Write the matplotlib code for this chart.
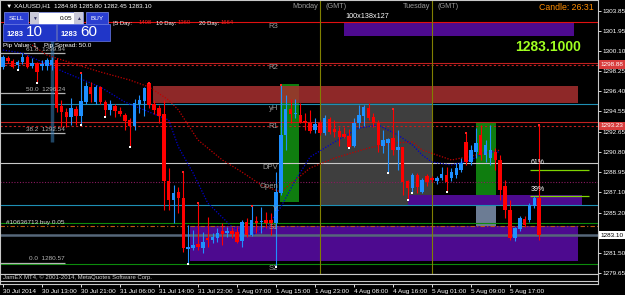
import numpy as np
import matplotlib
matplotlib.use("Agg")
import matplotlib.pyplot as plt
from matplotlib.patches import Rectangle

plt.rcParams['font.family'] = ['Liberation Sans', 'DejaVu Sans']

W, H = 625, 295

# XAUUSD H1, bar 0 = 30 Jul 2014 05:00
opens = [1298.65, 1299.48, 1299.21, 1298.84, 1299.11, 1299.57, 1298.74, 1299.02, 1298.74, 1298.74,
         1298.84, 1299.30, 1295.05, 1294.49, 1294.03, 1294.77, 1294.12, 1295.42, 1296.80, 1295.42,
         1296.80, 1295.42, 1294.68, 1295.05, 1294.59, 1294.22, 1293.75, 1293.20, 1295.23, 1295.51,
         1297.17, 1295.23, 1294.86, 1294.31, 1288.12, 1286.36, 1287.10, 1286.55, 1281.84, 1281.93,
         1282.30, 1281.93, 1282.85, 1282.67, 1282.85, 1283.50, 1283.32, 1283.50, 1283.41, 1282.58,
         1284.33, 1283.13, 1284.42, 1284.33, 1284.52, 1284.52, 1284.24, 1287.01, 1292.37, 1294.77,
         1294.31, 1294.22, 1293.66, 1293.48, 1292.83, 1293.48, 1292.55, 1293.85, 1292.92, 1292.74,
         1292.46, 1292.28, 1291.35, 1293.48, 1294.12, 1294.86, 1294.03, 1293.48, 1291.35, 1291.63,
         1292.09, 1290.98, 1291.26, 1288.12, 1287.47, 1288.67, 1287.10, 1288.58, 1288.40, 1288.12,
         1288.40, 1288.67, 1288.40, 1288.67, 1289.14, 1291.72, 1289.87, 1290.80, 1292.37, 1290.52,
         1290.24, 1290.80, 1290.06, 1287.66, 1285.44, 1282.85, 1283.68, 1284.61, 1284.52, 1285.81,
         1286.55]
highs = [1299.76, 1299.67, 1299.39, 1299.30, 1299.94, 1299.76, 1299.48, 1299.11, 1299.30, 1299.48,
         1299.57, 1299.48, 1295.60, 1294.86, 1295.79, 1295.05, 1298.10, 1297.27, 1297.27, 1296.99,
         1296.90, 1295.60, 1295.60, 1295.23, 1294.96, 1294.40, 1293.94, 1295.69, 1296.06, 1296.80,
         1297.17, 1295.60, 1295.14, 1295.60, 1289.32, 1287.75, 1287.57, 1288.95, 1284.05, 1283.59,
         1286.09, 1283.41, 1284.79, 1283.32, 1283.78, 1284.24, 1283.87, 1283.87, 1283.87, 1284.52,
         1284.70, 1285.81, 1284.89, 1285.72, 1285.26, 1285.16, 1288.95, 1296.99, 1296.06, 1295.69,
         1295.69, 1295.32, 1294.40, 1294.68, 1293.94, 1293.75, 1294.22, 1294.03, 1293.75, 1293.11,
         1293.11, 1292.92, 1293.94, 1295.14, 1295.14, 1295.32, 1294.40, 1293.75, 1292.83, 1292.09,
         1294.77, 1292.83, 1291.26, 1288.21, 1288.86, 1288.86, 1288.40, 1288.77, 1288.58, 1288.58,
         1289.41, 1289.41, 1289.32, 1289.78, 1290.24, 1292.55, 1291.45, 1293.02, 1293.29, 1291.91,
         1293.29, 1291.17, 1290.52, 1288.21, 1286.36, 1283.87, 1284.89, 1284.89, 1286.09, 1286.73,
         1293.29]
lows = [1298.47, 1299.02, 1298.56, 1298.37, 1298.93, 1298.56, 1298.56, 1297.17, 1298.37, 1298.37,
        1298.37, 1294.49, 1293.11, 1293.11, 1293.29, 1293.29, 1293.29, 1295.23, 1295.42, 1295.23,
        1295.23, 1294.03, 1294.22, 1294.03, 1294.12, 1292.83, 1291.26, 1292.83, 1294.40, 1294.12,
        1294.86, 1294.31, 1293.48, 1285.44, 1285.44, 1284.24, 1285.16, 1281.56, 1280.45, 1281.76,
        1281.76, 1281.47, 1282.02, 1282.39, 1282.48, 1282.21, 1282.95, 1282.85, 1282.39, 1282.02,
        1282.95, 1283.04, 1283.32, 1283.32, 1283.78, 1283.13, 1280.17, 1286.83, 1290.98, 1293.48,
        1293.94, 1293.48, 1292.83, 1292.55, 1292.55, 1292.37, 1292.37, 1292.46, 1292.18, 1291.35,
        1292.09, 1291.17, 1291.26, 1293.02, 1293.20, 1293.75, 1293.11, 1290.80, 1290.71, 1288.86,
        1290.52, 1289.14, 1286.83, 1286.36, 1287.01, 1287.01, 1287.01, 1287.66, 1288.03, 1287.84,
        1288.21, 1287.10, 1288.12, 1288.40, 1288.95, 1289.60, 1289.60, 1290.24, 1290.06, 1289.87,
        1289.60, 1289.14, 1286.36, 1284.70, 1282.67, 1282.58, 1283.50, 1283.87, 1284.33, 1285.63,
        1282.67]
closes = [1299.57, 1299.21, 1298.65, 1299.11, 1299.57, 1298.65, 1299.02, 1298.19, 1298.93, 1299.30,
          1299.30, 1294.86, 1294.49, 1294.03, 1294.86, 1294.12, 1295.51, 1296.90, 1296.16, 1296.80,
          1295.42, 1294.68, 1295.23, 1294.59, 1294.31, 1293.66, 1293.20, 1295.32, 1295.60, 1296.71,
          1295.14, 1294.68, 1294.12, 1288.12, 1286.36, 1287.01, 1286.55, 1281.93, 1282.02, 1282.21,
          1282.02, 1282.48, 1282.67, 1282.95, 1283.32, 1283.22, 1283.50, 1283.22, 1282.48, 1284.33,
          1283.13, 1284.52, 1284.24, 1284.42, 1284.24, 1284.24, 1287.10, 1292.37, 1294.77, 1294.31,
          1294.40, 1293.48, 1293.48, 1292.74, 1293.38, 1292.55, 1293.94, 1292.65, 1292.65, 1292.18,
          1292.18, 1291.26, 1293.48, 1294.22, 1294.96, 1293.94, 1293.48, 1291.45, 1291.91, 1292.00,
          1290.98, 1291.26, 1288.03, 1287.47, 1288.67, 1287.57, 1288.21, 1288.03, 1288.21, 1288.40,
          1288.77, 1288.03, 1288.95, 1289.32, 1289.78, 1289.87, 1290.98, 1291.63, 1290.52, 1291.45,
          1290.98, 1290.06, 1287.29, 1285.44, 1282.85, 1283.78, 1284.70, 1284.05, 1285.90, 1286.55,
          1283.10]

# trade arrows shown at wick ends
low_mark_bars = [3, 7, 16, 21, 26, 38, 56, 71, 79, 83, 84, 91]
high_mark_bars = [16, 30, 37, 40, 51, 57, 80, 95, 110]

# moving averages (red = slow, blue = fast)
ma_red_bars = [6, 9, 16, 20, 26, 30, 34, 36, 40, 45, 49, 53, 57, 60, 63, 68, 75, 80, 84, 86, 92, 97, 102]
ma_red_vals = [1300.68, 1299.76, 1298.74, 1298.19, 1297.45, 1296.80, 1295.60, 1294.68, 1291.91, 1290.06,
               1288.95, 1287.75, 1287.10, 1288.21, 1289.32, 1290.24, 1291.17, 1291.63, 1291.72, 1290.98,
               1290.06, 1290.52, 1290.98]
ma_blue_bars = [0, 4, 13, 20, 25, 34, 36, 39, 42, 47, 51, 54, 57, 60, 63, 68, 73, 77, 81, 84, 86, 88,
                92, 96, 99, 102]
ma_blue_vals = [1300.22, 1299.94, 1298.10, 1296.80, 1295.42, 1293.75, 1291.26, 1288.86, 1286.09, 1283.87,
                1283.13, 1283.78, 1285.72, 1288.21, 1290.34, 1291.72, 1293.02, 1293.29, 1292.37, 1291.45,
                1290.52, 1289.87, 1289.60, 1290.06, 1290.80, 1290.80]

# pivot levels
pivot_names = ['R3', 'R2', 'yH', 'R1', 'DPV', 'Open', 'Y', 'S1', 'S2']
pivot_vals = [1302.81, 1299.02, 1295.23, 1293.57, 1289.78, 1288.03, 1285.90, 1284.24, 1280.45]
pivot_cols = ['#e01010', '#c02020', '#1e8fb4', '#c02020', '#c8c8c8', '#8a1a60', '#1e8fb4', '#0c8c0c', '#0c8c0c']

# fibonacci
fib_levels = ['61.8', '50.0', '38.2', '0.0']
fib_vals = [1299.94, 1296.24, 1292.54, 1280.57]

# zones: (start bar, end bar, top, bottom, colour, alpha)
zones = [
    (69.9, 117.1, 1302.81, 1301.51, '#4d0a8f', 1.0),
    (65.0, 88.0, 1295.33, 1285.90, '#3e3e3e', 1.0),
    (56.8, 60.8, 1297.08, 1286.18, '#0f7d0f', 1.0),
    (97.0, 101.1, 1293.48, 1286.36, '#0f7d0f', 1.0),
    (97.0, 101.1, 1286.36, 1282.67, '#6c7c94', 1.0),
    (30.8, 117.9, 1296.90, 1295.33, '#a83030', 0.85),
    (38.4, 117.9, 1283.96, 1280.73, '#4d0a8f', 1.0),
    (83.1, 118.8, 1286.83, 1285.81, '#4d0a8f', 1.0),
]

yticks = [1303.85, 1301.95, 1300.10, 1298.25, 1296.40, 1294.55, 1292.65, 1290.80, 1288.95,
          1287.10, 1285.20, 1283.35, 1281.50, 1279.65]
hidden_ticks = [1283.35]  # covered by the bid box
time_bars = [0, 8, 16, 24, 32, 40, 48, 56, 64, 72, 80, 88, 96, 104]
time_labels = ['30 Jul 2014', '30 Jul 13:00', '30 Jul 21:00', '31 Jul 06:00', '31 Jul 14:00',
               '31 Jul 22:00', '1 Aug 07:00', '1 Aug 15:00', '1 Aug 23:00', '4 Aug 08:00',
               '4 Aug 16:00', '5 Aug 01:00', '5 Aug 09:00', '5 Aug 17:00']

day_ranges = [('5', 1408), ('10', 1360), ('20', 1664)]

bid, ask = 1283.10, 1283.60
BLUE, RED = '#1e90ff', '#ff0000'
FS = 4.6

fig = plt.figure(figsize=(W / 100, H / 100), dpi=100, facecolor='black')
ax = fig.add_axes([0, 21 / H, 598 / W, 274 / H])
ax2 = fig.add_axes([0, 11 / H, 598 / W, 10 / H], sharex=ax)
for a in (ax, ax2):
    a.set_facecolor('black')
    for s in a.spines.values():
        s.set_color('#c8c8c8')
        s.set_linewidth(0.8)

ax.set_xlim(-0.6, 122.05)
ax.set_ylim(1279.53, 1304.84)

for x0, x1, top, bot, col, al in zones:
    ax.add_patch(Rectangle((x0, bot), x1 - x0, top - bot, facecolor=col, edgecolor='none',
                           alpha=al, zorder=1))

# horizontal levels
for name, v, col in zip(pivot_names, pivot_vals, pivot_cols):
    ls = (0, (1, 1.5)) if name == 'Open' else '-'
    ax.axhline(v, color=col, lw=0.8, ls=ls, zorder=2)
    ax.text(56.4, v - 0.12, name, color='#9a9a9a', fontsize=5.5, ha='right', va='top', zorder=6)
ax.axhline(1298.88, color='#c02020', lw=0.8, ls=(0, (2, 2)), zorder=2)
ax.axhline(1293.23, color='#c02020', lw=0.8, ls=(0, (2, 2)), zorder=2)
ax.axhline(1283.96, color='#c05a10', lw=0.8, ls=(0, (4, 2, 1, 2)), zorder=2)
ax.axhline(bid, color='#56677a', lw=1.8, zorder=2)
ax.hlines([1289.14, 1286.73], 108.1, 120.2, color='#7fd400', lw=0.9, zorder=2)
ax.text(108.2, 1289.80, '61%', color='white', fontsize=FS + 0.4, va='center', zorder=6)
ax.text(108.2, 1287.38, '39%', color='white', fontsize=FS + 0.4, va='center', zorder=6)
ax.text(0.6, 1284.30, '#10636713 buy 0.05', color='#d8d8d8', fontsize=FS, va='center', zorder=6)

for lev, v in zip(fib_levels, fib_vals):
    ax.hlines(v, -0.6, 12.7, color='#b4b4b4', lw=0.9, zorder=2)
    ax.text(12.7, v + 0.12, f'{lev}  {v:.2f}', color='#b4b4b4', fontsize=FS, ha='right',
            va='bottom', zorder=6)

for b in (65, 88):
    ax.axvline(b, color='#808000', lw=0.8, zorder=2)
ax.vlines(10, 1291.72, 1301.14, color='#3a7fb8', alpha=0.55, lw=2.5, zorder=3)

ax.plot(ma_red_bars, ma_red_vals, color='#c00000', lw=0.9, ls=(0, (1, 1.3)), zorder=3)
ax.plot(ma_blue_bars, ma_blue_vals, color='#0000d0', lw=0.9, ls=(0, (1, 1.3)), zorder=3)

# candles
bars = np.arange(len(opens))
o, hi, lo, c = map(np.array, (opens, highs, lows, closes))
cols = np.where(c >= o, BLUE, RED)
ax.vlines(bars, lo, hi, colors=cols, lw=0.8, zorder=4)
ax.bar(bars, np.maximum(np.abs(c - o), 0.06), bottom=np.minimum(o, c), width=0.72,
       color=cols, zorder=5)
ax.scatter(low_mark_bars, lo[low_mark_bars], marker='s', s=2.5, color='white', lw=0, zorder=6)
ax.scatter(high_mark_bars, hi[high_mark_bars], marker='s', s=2.5, color='#ff2020', lw=0, zorder=6)

# right price scale
ax.yaxis.tick_right()
ax.set_yticks(yticks)
ax.set_yticklabels(['' if t in hidden_ticks else f'{t:.2f}' for t in yticks])
ax.tick_params(axis='y', colors='white', labelsize=FS, length=2, width=0.6, pad=1)
ax.tick_params(axis='x', bottom=False, labelbottom=False)
ybox = ax.get_yaxis_transform()
for v, fc, tc in ((1298.88, '#d83c3c', 'white'), (1293.23, '#d83c3c', 'white'), (bid, 'white', 'black')):
    ax.text(1.004, v, f'{v:.2f}', transform=ybox, color=tc, fontsize=FS, va='center', ha='left',
            zorder=7, bbox=dict(boxstyle='square,pad=0.25', fc=fc, ec='none'), clip_on=False)

# small indicator strip + time axis
ax2.set_ylim(0, 1)
ax2.set_yticks([])
ax2.axhline(0.35, color='#c8c8c8', lw=0.8)
ax2.set_xticks(time_bars)
ax2.set_xticklabels(time_labels, ha='left')
ax2.tick_params(axis='x', colors='white', labelsize=FS, length=2.5, width=0.6, pad=1)
ax2.text(3 / 598, 0.68, 'JamEX MT4, \u00a9 2001-2014, MetaQuotes Software Corp.', transform=ax2.transAxes,
         color='#d0d0d0', fontsize=FS - 0.3, va='center')


def fig_rect(x, y, w, h, **kw):
    fig.add_artist(Rectangle((x / W, 1 - (y + h) / H), w / W, h / H, transform=fig.transFigure, **kw))


def fig_txt(x, y, s, **kw):
    kw.setdefault('va', 'center')
    fig.text(x / W, 1 - y / H, s, **kw)


# header + one-click trading panel
fig_txt(6, 6, '\u25bc XAUUSD,H1  1284.98 1285.80 1282.45 1283.10', color='white', fontsize=FS)
fig_rect(4, 12, 24, 12, facecolor='#2a3ed0', edgecolor='#8090f0', lw=0.5)
fig_txt(16, 18, 'SELL', color='white', fontsize=FS, ha='center')
fig_rect(30, 12, 53, 12, facecolor='white', edgecolor='#8090f0', lw=0.5)
fig_rect(30, 12, 9, 12, facecolor='#c8c8d8', edgecolor='none')
fig_rect(74, 12, 9, 12, facecolor='#c8c8d8', edgecolor='none')
fig_txt(34.5, 18, '\u25bc', color='#303060', fontsize=3.5, ha='center')
fig_txt(78.5, 18, '\u25b2', color='#303060', fontsize=3.5, ha='center')
fig_txt(72, 18, '0.05', color='black', fontsize=FS, ha='right')
fig_rect(86, 12, 22, 12, facecolor='#2a3ed0', edgecolor='#8090f0', lw=0.5)
fig_txt(97, 18, 'BUY', color='white', fontsize=FS, ha='center')
for x0, price in ((3, bid), (57, ask)):
    fig_rect(x0, 24, 53, 17, facecolor='#2036c8', edgecolor='#6a7ae8', lw=0.5)
    big = f'{price:.2f}'
    fig_txt(x0 + 4, 34, big[:4], color='white', fontsize=5.5, fontweight='bold')
    fig_txt(x0 + 23, 32.5, big[5:], color='white', fontsize=11)

# daily range strip: label and value pieces at their own columns
fig_txt(112, 23, '|', color='white', fontsize=FS)
for (days, rng), xl, xv in zip(day_ranges, (115, 156, 199), (139, 178, 221)):
    fig_txt(xl, 23, f'{days} Day:', color='white', fontsize=4.2)
    fig_txt(xv, 23, str(rng), color='#ff2020', fontsize=4.2)
fig_txt(3, 45, 'Pip Value: 1', color='white', fontsize=FS)
fig_txt(44, 45, 'Pip Spread: 50.0', color='white', fontsize=FS)

fig_txt(318, 7, 'Monday', color='#9a9a9a', fontsize=5.2, ha='right')
fig_txt(325, 7, '(GMT)', color='#9a9a9a', fontsize=5.2)
fig_txt(430, 7, 'Tuesday', color='#9a9a9a', fontsize=5.2, ha='right')
fig_txt(438, 7, '(GMT)', color='#9a9a9a', fontsize=5.2)
fig_txt(345, 16, '100x138x127', color='white', fontsize=5.2)
fig_txt(594, 7, 'Candle: 26:31', color='#ff8c00', fontsize=6.3, ha='right')
fig_txt(581, 47, f'{bid:.4f}', color='#a0ff20', fontsize=10, fontweight='bold', ha='right')

fig.savefig('out.png', dpi=100, facecolor='black')
